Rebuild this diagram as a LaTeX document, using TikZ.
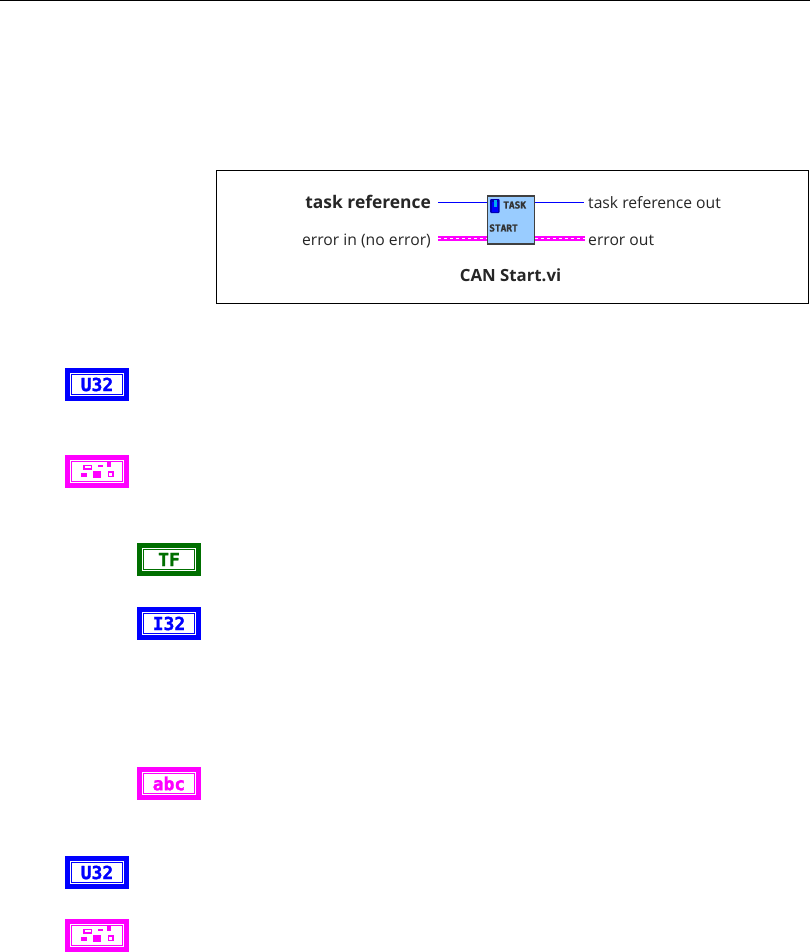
\documentclass[tikz,border=0pt]{standalone}
\usepackage{fontspec}
\setmainfont{Open Sans}
\newfontfamily\iconfont[BoldFeatures={FakeBold=1.5}]{DejaVu Sans Mono}
\usetikzlibrary{calc}
\definecolor{lvblue}{HTML}{0000FF}
\definecolor{lvpink}{HTML}{FF00FF}
\definecolor{lvgreen}{HTML}{006F00}
\definecolor{vifill}{HTML}{99CCFF}
\tikzset{
  termouter/.style={draw=#1,line width=4.6pt,fill=white,minimum width=59.4pt,minimum height=28.4pt,inner sep=0pt},
  terminner/.style={draw=#1,line width=1.3pt,text=#1,minimum width=50.6pt,minimum height=19.6pt,inner sep=0pt,font=\iconfont\bfseries\fontsize{18}{18}\selectfont},
  termlabel/.style={inner sep=0pt,font=\fontsize{15.7}{17}\selectfont,text=black!85},
  boldlabel/.style={termlabel,font=\bfseries\fontsize{#1}{18}\selectfont},
  viglyph/.style={inner sep=0pt,font=\iconfont\bfseries\fontsize{9.5}{10}\selectfont,text=black!80},
  taskwire/.style={draw=lvblue,line width=1.3pt},
  errwire/.style={draw=lvpink,line width=4.5pt},
  errdash/.style={draw=white,line width=1.6pt,dash pattern=on 2.5pt off 3.5pt}
}
\newcommand{\termicon}[5]{
  \node[termouter=#4] (#1) at (#2,#3) {};
  \node[terminner=#4] (#1text) at (#1) {#5};
}
\newcommand{\clustericon}[3]{
  \termicon{#1}{#2}{#3}{lvpink}{}
  \foreach \xa/\ya/\xb/\yb in {0.7/6.4/6.3/4.6,10.3/9.2/14/4.6,-16.3/-1.6/-10.3/-5.4,-3.7/0.2/3.7/-6}
    \fill[lvpink] ($(#1)+(\xa,\ya)$) rectangle ($(#1)+(\xb,\yb)$);
  \foreach \xa/\ya/\xb/\yb in {-13.2/6/-5.8/2.7,11.2/-.5/15.8/-4.7}
    \draw[lvpink,line width=1.4pt] ($(#1)+(\xa,\ya)$) rectangle ($(#1)+(\xb,\yb)$);
}
\begin{document}
\begin{tikzpicture}[x=1pt,y=1pt]
\useasboundingbox (0,0) rectangle (810,-952);
\draw[black,line width=1pt] (0,-.5) -- (810,-.5);
\node[draw=black,line width=1pt,minimum width=592pt,minimum height=132pt,inner sep=0pt] (frame) at (512.5,-237) {};
\node[draw=black!75,line width=1.5pt,fill=vifill,minimum width=47pt,minimum height=48pt,inner sep=0pt] (vi) at (510.75,-220) {};
\coordinate (taskin) at (438,-202.5);
\coordinate (taskout) at (584,-202.5);
\coordinate (errin) at (438,-238.5);
\coordinate (errout) at (585,-238.5);
\draw[taskwire] (taskin) -- (vi.west |- taskin);
\draw[taskwire] (vi.east |- taskout) -- (taskout);
\draw[errwire] (errin) -- (vi.west |- errin);
\draw[errwire] (vi.east |- errout) -- (errout);
\draw[errdash] (errin) -- (vi.west |- errin);
\draw[errdash] (vi.east |- errout) -- (errout);
\fill[blue!70!black,rounded corners=1pt] (490,-199) rectangle (499.5,-213);
\fill[lvblue] (491.5,-202) rectangle (498,-212);
\fill[cyan] (493.5,-200) rectangle (496.5,-207);
\node[viglyph,anchor=west] (tasktext) at (503,-205) {TASK};
\node[viglyph,anchor=west] (starttext) at (489,-228) {START};
\node[boldlabel=17.4,anchor=base east] (tasklabel) at (431,-208.5) {task reference};
\node[termlabel,anchor=base east] (errlabel) at (431,-245) {error in (no error)};
\node[termlabel,anchor=base west] (taskoutlabel) at (588,-208.5) {task reference out};
\node[termlabel,anchor=base west] (erroutlabel) at (588,-245) {error out};
\node[boldlabel=16.8,anchor=base] (vilabel) at (510.5,-281) {CAN Start.vi};
\termicon{taskicon}{97}{-384.5}{lvblue}{U32}
\clustericon{erricon}{97}{-471.5}
\termicon{statusicon}{169}{-559.5}{lvgreen}{TF}
\termicon{codeicon}{169}{-623.5}{lvblue}{I32}
\termicon{sourceicon}{169}{-783.5}{lvpink}{abc}
\termicon{taskouticon}{97}{-872.5}{lvblue}{U32}
\clustericon{erroutsicon}{97}{-935.5}
\end{tikzpicture}
\end{document}
